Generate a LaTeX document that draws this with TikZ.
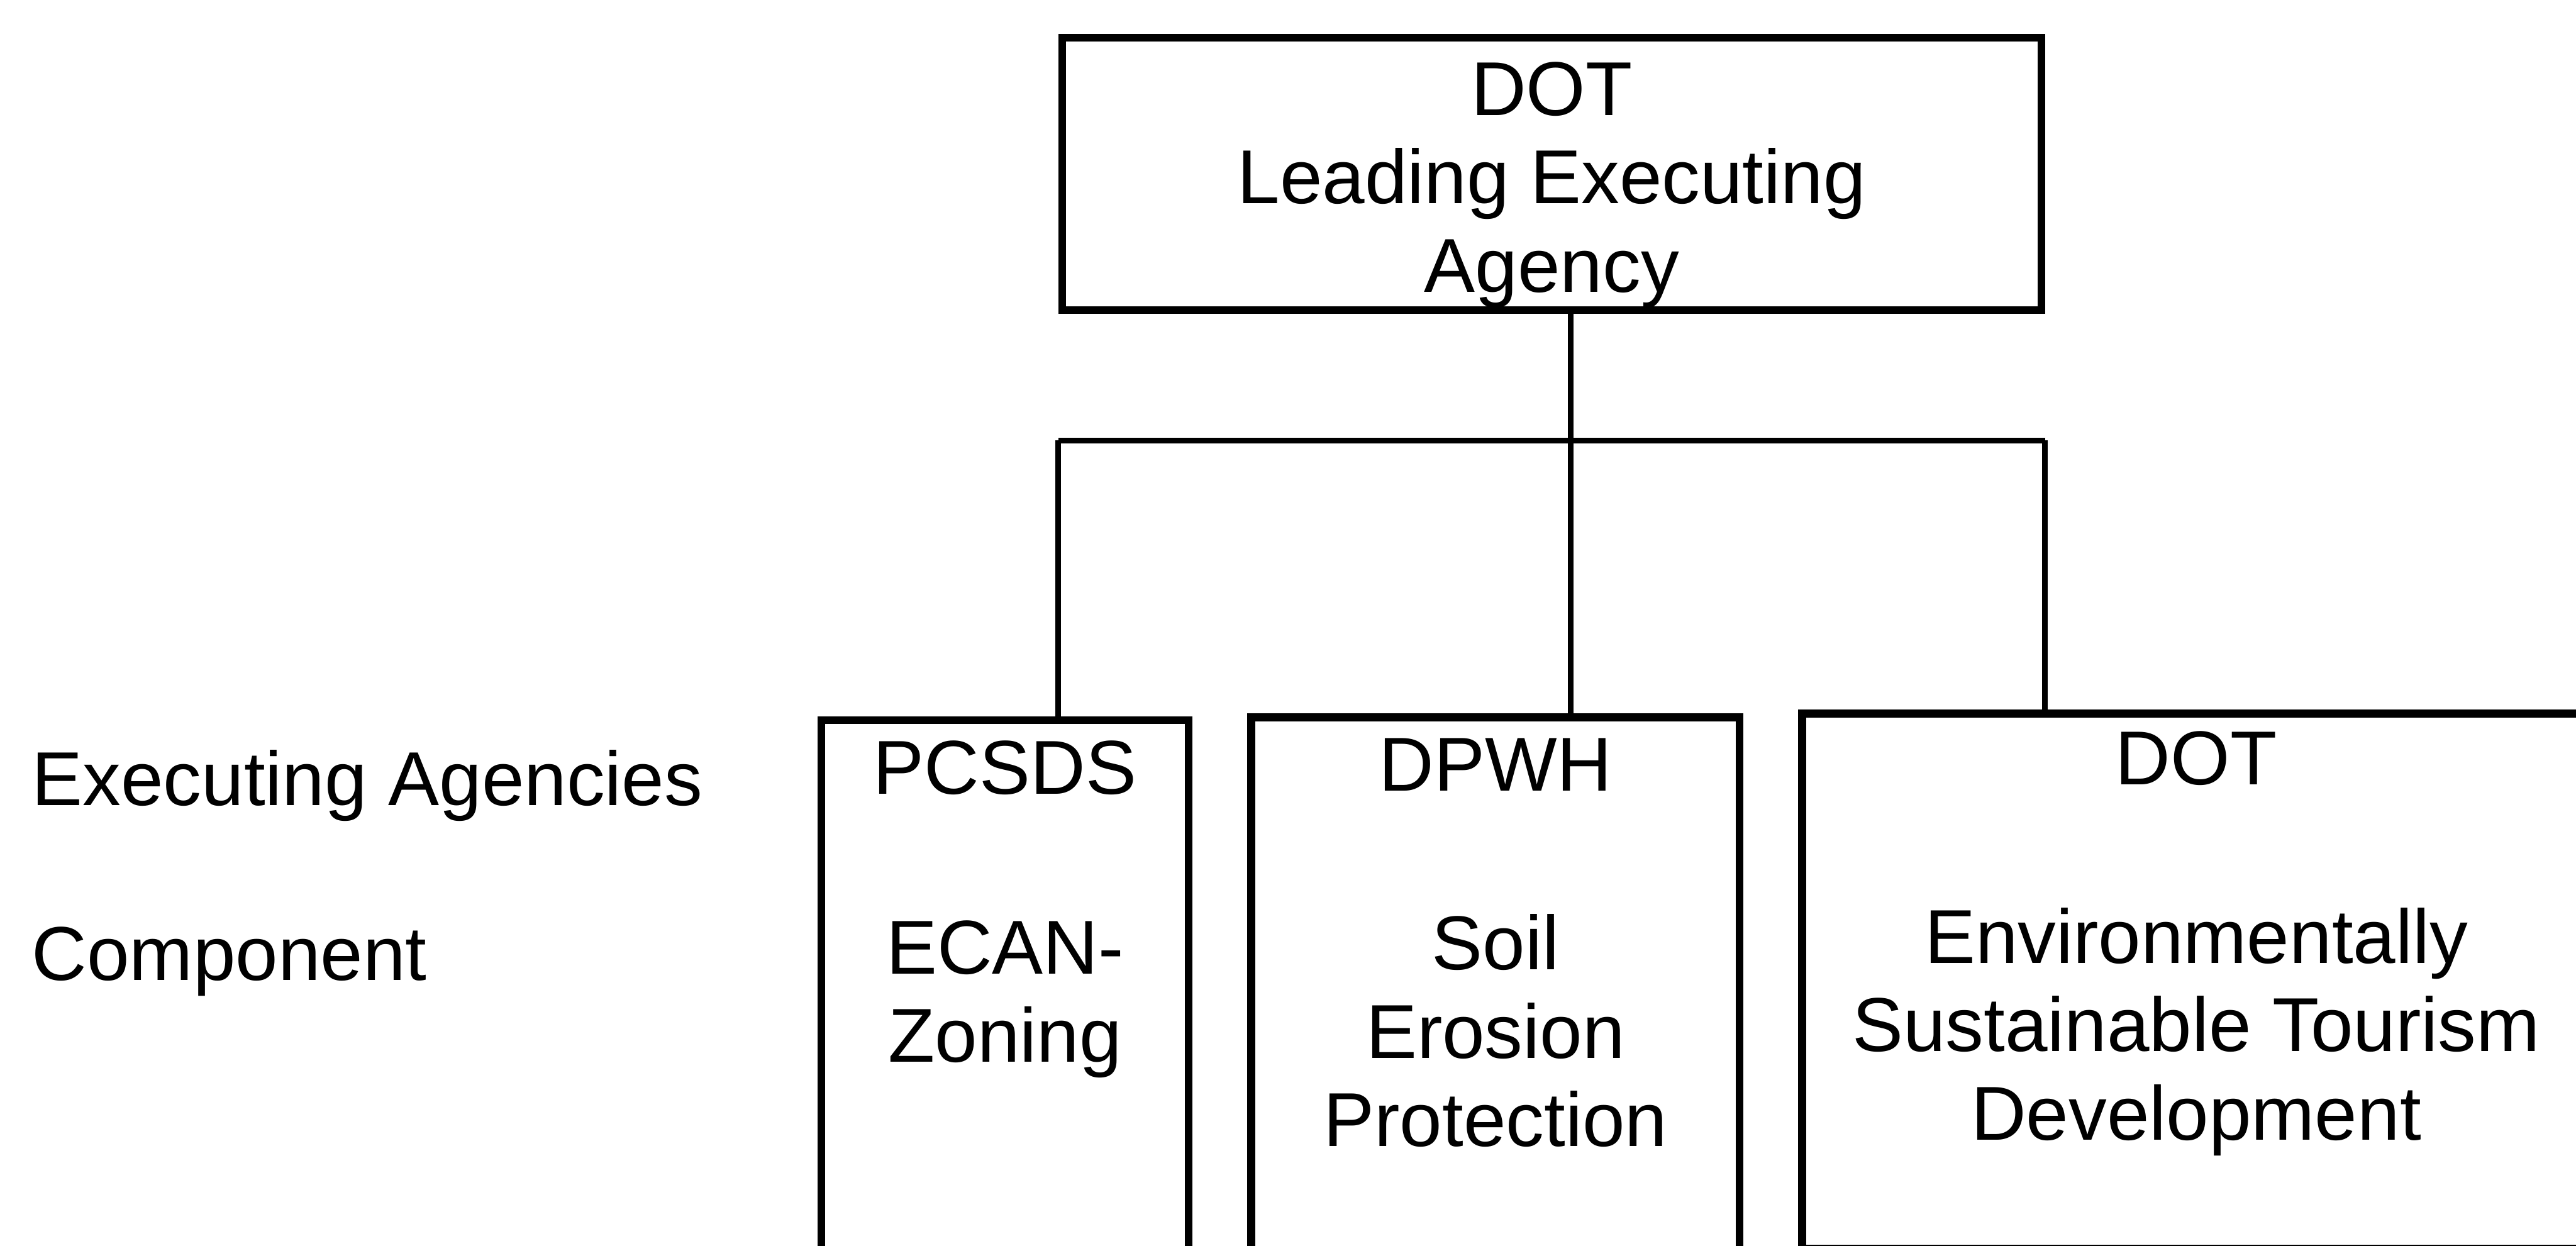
\documentclass[tikz,border=0pt]{standalone}
\usepackage{fontspec}
\setmainfont{Liberation Sans}
\usetikzlibrary{calc}

\tikzset{
  box/.style={draw,line width=2.3pt,inner sep=0pt,anchor=north west},
  link/.style={line width=1.7pt},
  txt/.style={inner sep=0pt,align=center,anchor=base,font=\fontsize{23}{26.6}\selectfont},
  side/.style={inner sep=0pt,anchor=base west,font=\fontsize{23}{26.6}\selectfont}
}

\begin{document}
\begin{tikzpicture}
\useasboundingbox (0,0) rectangle (27.26,-13.18);

% leading agency (base = last line)
\node[box,minimum width=10.36cm,minimum height=2.88cm] (lead) at (11.2,-0.36) {};
\node[txt] (leadtxt) at ([yshift=-2.73cm]lead.north) {DOT\\Leading Executing\\Agency};

% executing agencies
\node[box,minimum width=3.89cm,minimum height=5.9cm] (pcsds) at (8.65,-7.58) {};
\node[box,minimum width=5.17cm,minimum height=5.9cm] (dpwh) at (13.2,-7.55) {};
\node[box,minimum width=8.34cm,minimum height=5.66cm] (dot) at (19.03,-7.51) {};

\node[txt] (pcsdsname) at ([yshift=-0.82cm]pcsds.north) {PCSDS};
\node[txt] (pcsdscomp) at ([yshift=-3.66cm]pcsds.north) {ECAN-\\Zoning};
\node[txt] (dpwhname) at ([yshift=-0.82cm]dpwh.north) {DPWH};
\node[txt] (dpwhcomp) at ([yshift=-4.58cm]dpwh.north) {Soil\\Erosion\\Protection};
\node[txt] (dotname) at ([yshift=-0.79cm]dot.north) {DOT};
\node[txt] (dotcomp) at ([yshift=-4.55cm]dot.north) {Environmentally\\Sustainable Tourism\\Development};

% row labels
\node[side] (agencies) at (0.33,-8.52) {Executing Agencies};
\node[side] (component) at (0.33,-10.37) {Component};

% connectors
\coordinate (bar) at (0,-4.66);
\coordinate (split) at ([xshift=0.2cm]lead.south);
\draw[link] (split) -- (split |- bar);
\draw[link] (lead.south west |- bar) -- (lead.south east |- bar);
\draw[link] (lead.south west |- bar) -- (lead.south west |- pcsds.north);
\draw[link] (split |- bar) -- (split |- dpwh.north);
\draw[link] (lead.south east |- bar) -- (lead.south east |- dot.north);
\end{tikzpicture}
\end{document}
